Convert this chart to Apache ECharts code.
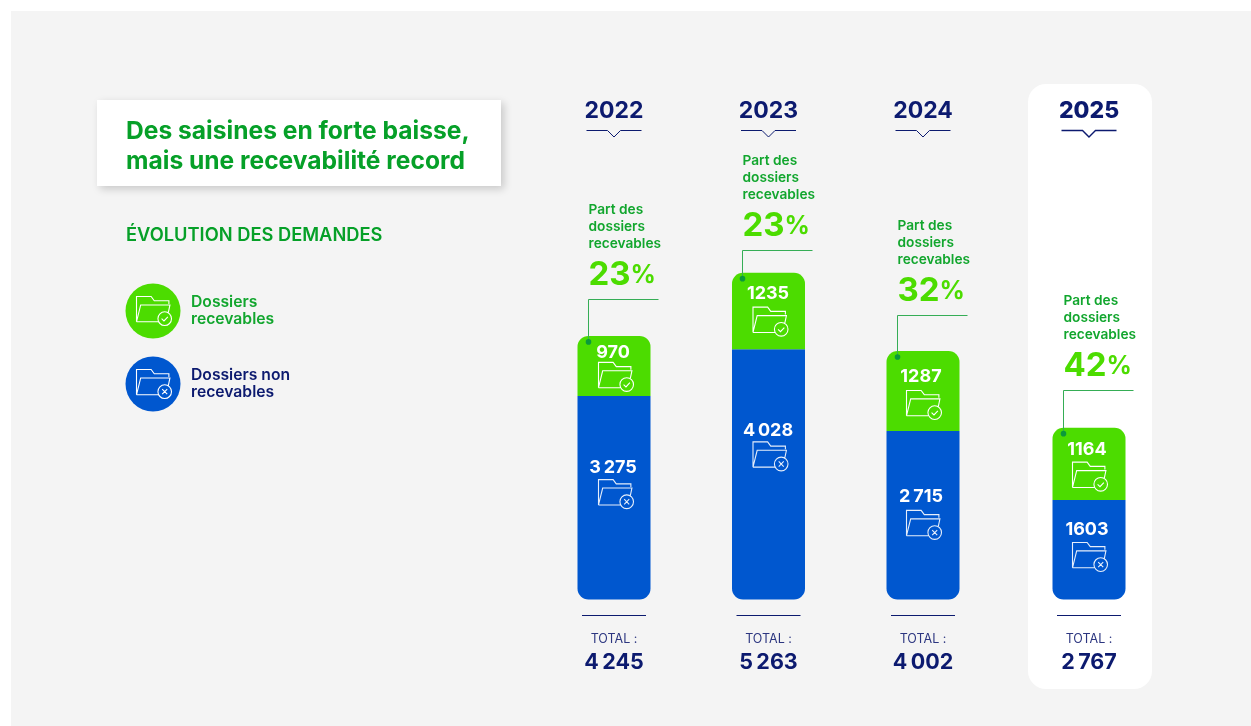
<!DOCTYPE html>
<html><head><meta charset="utf-8">
<script src="https://cdn.jsdelivr.net/npm/echarts@6/dist/echarts.min.js"></script>
<style>html,body{margin:0;padding:0;background:#fff}#c{width:1251px;height:726px}</style>
</head><body><div id="c"></div>
<script>
// ---- data ----
const years = ['2022','2023','2024','2025'];
const recevables = [970,1235,1287,1164];
const nonRecevables = [3275,4028,2715,1603];
const partRecevables = [23,23,32,42];
const totals = [4245,5263,4002,2767];
const legendNames = ['Dossiers\nrecevables','Dossiers non\nrecevables'];
// ---- layout of annotations, px from the tops of the segments ----
const calloutGap = [36.4,22,35,36.7];
const greenTextDrop = [17,21,26,22];
const greenIconDrop = [41,49,54,49];
const blueTextDrop = [71,81,66,30];
const blueIconDrop = [98,107,94,57];
const textShift = [-1,-0.5,-2,-2];
const iconShift = [2,2,1,1];

const FONT = 'Inter, "Noto Sans", sans-serif';
const GREEN='#4cdc00', BLUE='#0057cf', NAVY='#0c1a6f', TXT='#12a62e', TITLE='#06a028', LINE='#35ad55', DOT='#0a9a3a';
const fmt = v => v>=2000 ? String(v).replace(/(\d)(\d{3})$/,'$1\u2009$2') : String(v);
const FOLDER = 'M1 25L1 1L15 1L18 5L32 5L32 8M1 25L5 9L33 9L31.5 16M22 25L1 25';
const OK_MARK = 'M34.5 22a6.5 6.5 0 1 1 -13 0a6.5 6.5 0 1 1 13 0M25 22L27.3 24.2L31 20.3';
const NO_MARK = 'M34.5 22a6.5 6.5 0 1 1 -13 0a6.5 6.5 0 1 1 13 0M25.6 19.6L30.4 24.4M30.4 19.6L25.6 24.4';
const icon = (cx,cy,mark,op) => ({type:'path',silent:true,
  shape:{pathData:FOLDER+mark,x:cx-17.5,y:cy-14.5,width:35,height:29,layout:'cover'},
  style:{fill:null,stroke:'#fff',lineWidth:1.1,opacity:op}});
const crisp = v => Math.round(v-0.5)+0.5;

function overlay(rowOffset){
  return function(params,api){
    const i=params.dataIndex+rowOffset;
    const non=api.value(1),rec=api.value(2),pct=api.value(3);
    const base=api.coord([params.dataIndex,0]);
    const cx=base[0];
    const blueTop=api.coord([params.dataIndex,non])[1];
    const top=api.coord([params.dataIndex,non+rec])[1];
    const left=Math.round(cx-36.5);
    const lineY=crisp(top-calloutGap[i]);
    const strong=i===3;
    const ky=130.5;
    const ch=[];
    ch.push({type:'polyline',silent:true,shape:{points:[[cx-27.5,ky],[cx-6.5,ky],[cx,ky+6.5],[cx+6.5,ky],[cx+27.5,ky]]},style:{fill:null,stroke:NAVY,lineWidth:strong?1.4:1}});
    ch.push({type:'line',silent:true,shape:{x1:cx-32,y1:615.5,x2:cx+32,y2:615.5},style:{stroke:NAVY,lineWidth:1}});
    const lx=left+10.5;
    ch.push({type:'polyline',silent:true,shape:{points:[[lx+70,lineY],[lx,lineY],[lx,top+6]]},style:{fill:null,stroke:LINE,lineWidth:1}});
    ch.push({type:'circle',silent:true,shape:{cx:lx,cy:top+6,r:2.8},style:{fill:DOT}});
    ch.push({type:'text',silent:true,style:{x:lx,y:lineY-72.5,text:'Part des\ndossiers\nrecevables',fill:TXT,font:'600 13.7px '+FONT,lineHeight:17,textAlign:'left',textVerticalAlign:'middle'}});
    ch.push({type:'text',silent:true,style:{x:lx,y:lineY-24.5,text:'{a|'+pct+'}{b|%}',textAlign:'left',textVerticalAlign:'middle',
      rich:{a:{fill:GREEN,fontFamily:FONT,fontSize:33,fontWeight:700},b:{fill:GREEN,fontFamily:FONT,fontSize:25,fontWeight:700}}}});
    ch.push({type:'text',silent:true,style:{x:cx+textShift[i],y:top+greenTextDrop[i],text:fmt(rec),fill:'#fff',font:'700 18px '+FONT,textAlign:'center',textVerticalAlign:'middle'}});
    ch.push(icon(cx+iconShift[i],top+greenIconDrop[i],OK_MARK,1));
    ch.push({type:'text',silent:true,style:{x:cx+textShift[i],y:blueTop+blueTextDrop[i],text:fmt(non),fill:'#fff',font:'700 18px '+FONT,textAlign:'center',textVerticalAlign:'middle'}});
    ch.push(icon(cx+iconShift[i],blueTop+blueIconDrop[i],NO_MARK,.9));
    return {type:'group',children:ch};
  };
}
function groupSeries(from,to,ax){
  const idx=ax*2;
  return [
    {type:'bar',name:'Dossiers non recevables',stack:'s'+ax,xAxisIndex:idx,yAxisIndex:ax,barWidth:73,silent:true,
     itemStyle:{color:BLUE,borderRadius:[0,0,11,11]},data:nonRecevables.slice(from,to)},
    {type:'bar',name:'Dossiers recevables',stack:'s'+ax,xAxisIndex:idx,yAxisIndex:ax,barWidth:73,silent:true,
     itemStyle:{color:GREEN,borderRadius:[11,11,0,0]},data:recevables.slice(from,to)},
    {type:'custom',xAxisIndex:idx,yAxisIndex:ax,silent:true,clip:false,z:5,encode:{x:0,y:1},renderItem:overlay(from),
     data:years.slice(from,to).map((y,k)=>[y,nonRecevables[from+k],recevables[from+k],partRecevables[from+k]])}
  ];
}
function axes(from,to,ax){
  return [
    {type:'category',gridIndex:ax,position:'top',data:years.slice(from,to),axisLine:{show:false},axisTick:{show:false},
     axisLabel:{margin:-1,color:NAVY,fontFamily:FONT,fontSize:23,fontWeight:ax?800:700}},
    {type:'category',gridIndex:ax,position:'bottom',data:totals.slice(from,to).map(fmt),axisLine:{show:false},axisTick:{show:false},
     axisLabel:{margin:29,interval:0,formatter:v=>'{t|TOTAL :}\n{v|'+v+'}',
       rich:{t:{color:'#2c3680',fontFamily:FONT,fontSize:12.5,lineHeight:22,align:'center'},v:{color:NAVY,fontFamily:FONT,fontSize:21.5,fontWeight:700,lineHeight:24,align:'center'}}}}
  ];
}
const legendSeries={type:'custom',coordinateSystem:'none',silent:true,z:5,data:[0,1],renderItem(params){
  const k=params.dataIndex,y=311+73*k,isOk=k===0;
  return {type:'group',children:[
    {type:'circle',shape:{cx:153,cy:y,r:27.5},style:{fill:isOk?GREEN:BLUE}},
    icon(154,y,isOk?OK_MARK:NO_MARK,1),
    {type:'text',style:{x:191,y:y,text:legendNames[k],fill:isOk?TXT:NAVY,font:'600 15.7px '+FONT,lineHeight:17,textAlign:'left',textVerticalAlign:'middle'}}
  ]};
}};
const chart=echarts.init(document.getElementById('c'),null,{renderer:'canvas'});
chart.setOption({
  animation:false,backgroundColor:'#fff',
  title:[
    {text:'Des saisines en forte baisse,\nmais une recevabilité record',left:126,top:117,padding:0,z:6,textStyle:{color:TITLE,fontFamily:FONT,fontSize:24.6,fontWeight:700,lineHeight:30}},
    {text:'ÉVOLUTION DES DEMANDES',left:126,top:227,padding:0,z:6,textStyle:{color:TITLE,fontFamily:FONT,fontSize:18.3,fontWeight:600}}
  ],
  tooltip:{show:false},
  grid:[
    {left:536.75,width:463.5,top:121.33,height:478.17},
    {left:1011.75,width:154.5,top:121.33,height:478.17}
  ],
  xAxis:[...axes(0,3,0),...axes(3,4,1)],
  yAxis:[0,1].map(g=>({type:'value',gridIndex:g,min:0,max:7700,show:false})),
  series:[...groupSeries(0,3,0),...groupSeries(3,4,1),legendSeries],
  graphic:[
    {type:'rect',z:-10,shape:{x:11,y:11,width:1240,height:715},style:{fill:'#f4f4f4'}},
    {type:'rect',z:-9,shape:{x:1028,y:84,width:124,height:605,r:18},style:{fill:'#fff'}},
    {type:'rect',z:-8,shape:{x:97,y:100,width:404,height:86},style:{fill:'#fff',shadowBlur:8,shadowColor:'rgba(0,0,0,.18)',shadowOffsetX:3,shadowOffsetY:3}}
  ]
});
</script></body></html>
